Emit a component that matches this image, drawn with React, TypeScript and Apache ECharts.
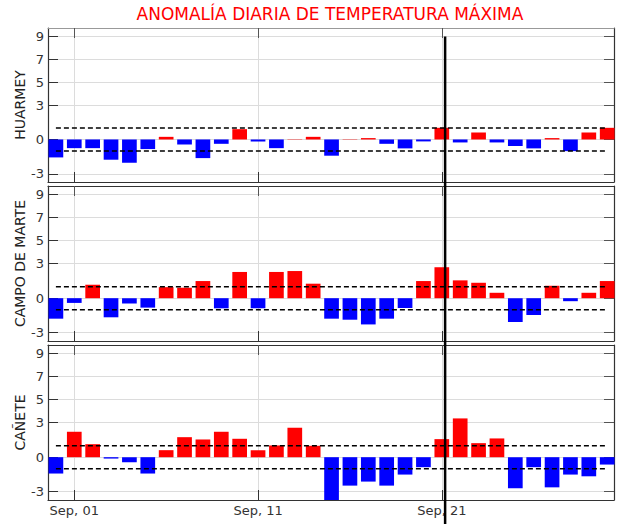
import React, { useEffect, useRef } from 'react';
import * as echarts from 'echarts';

// Day offsets relative to Sep 01 (Aug 31 = -1 ... Sep 30 = 29)
const days = [-1, 0, 1, 2, 3, 4, 5, 6, 7, 8, 9, 10, 11, 12, 13, 14, 15, 16, 17, 18, 19, 20, 21, 22, 23, 24, 25, 26, 27, 28, 29];
const xTickValues = [0, 10, 20];
const xTickLabels = ['Sep, 01', 'Sep, 11', 'Sep, 21'];
const yTickValues = [-3, 0, 3, 5, 7, 9];
const stations = ['HUARMEY', 'CAMPO DE MARTE', 'CAÑETE'];

const huarmey = [-1.57, -0.76, -0.76, -1.77, -2.03, -0.84, 0.23, -0.44, -1.63, -0.38, 0.9, -0.17, -0.76, 0.03, 0.23,
  -1.42, 0.03, 0.12, -0.38, -0.78, -0.17, 1.02, -0.26, 0.61, -0.26, -0.58, -0.78, 0.12, -1.02, 0.61, 1.02];
const campoDeMarte = [-1.78, -0.41, 1.17, -1.66, -0.47, -0.82, 0.96, 0.91, 1.49, -0.88, 2.28, -0.88, 2.28, 2.36, 1.26,
  -1.78, -1.87, -2.28, -1.78, -0.85, 1.49, 2.69, 1.55, 1.34, 0.47, -2.07, -1.46, 1.08, -0.26, 0.47, 1.49];
const canete = [-1.42, 2.21, 1.13, -0.12, -0.44, -1.42, 0.61, 1.74, 1.54, 2.21, 1.6, 0.61, 1.02, 2.56, 0.99,
  -3.9, -2.47, -2.12, -2.47, -1.51, -0.87, 1.57, 3.37, 1.22, 1.63, -2.7, -0.87, -2.62, -1.51, -1.66, -0.64];
const stationValues = [huarmey, campoDeMarte, canete];
const thresholds = [1, -1];
const markerDay = 20.18;
const title = 'ANOMALÍA DIARIA DE TEMPERATURA MÁXIMA';

const FONT = 'DejaVu Sans';
const X_MIN = -1.43;
const X_MAX = 29.37;
const Y_MIN = -3.72;
const Y_MAX = 9.75;
const GRID_LEFT = 48;
const GRID_WIDTH = 566;
const GRID_TOPS = [28, 186, 345];
const GRID_HEIGHTS = [154, 155, 155];

export default function App() {
  const ref = useRef<HTMLDivElement>(null);
  useEffect(() => {
    if (!ref.current) return;
    const chart = echarts.init(ref.current, null, { renderer: 'svg' });
    const barWidth = (GRID_WIDTH / (X_MAX - X_MIN)) * 0.8;

    const grid = GRID_TOPS.map((t, i) => ({ left: GRID_LEFT, width: GRID_WIDTH, top: t, height: GRID_HEIGHTS[i] }));
    const xAxis: any[] = [];
    const yAxis: any[] = [];
    const series: any[] = [];
    stations.forEach((name, i) => {
      xAxis.push({
        type: 'value', gridIndex: i, min: X_MIN, max: X_MAX, position: 'bottom',
        axisLine: { show: true, onZero: false, lineStyle: { color: '#333', width: 1.2 } },
        axisTick: { show: true, inside: true, length: 10, customValues: xTickValues, lineStyle: { color: '#333', width: 1 } },
        axisLabel: {
          show: i === 2, customValues: xTickValues, margin: 4, fontFamily: FONT, fontSize: 13, color: '#333',
          formatter: (v: number) => xTickLabels[xTickValues.indexOf(Math.round(v))] ?? '',
        },
        splitLine: { show: true, lineStyle: { color: '#dcdcdc', width: 1 } },
      });
      xAxis.push({
        type: 'value', gridIndex: i, min: X_MIN, max: X_MAX, position: 'top',
        axisLine: { show: true, onZero: false, lineStyle: { color: i === 0 ? '#999' : '#333', width: 1.2 } },
        axisTick: { show: true, inside: true, length: 10, customValues: xTickValues, lineStyle: { color: '#555', width: 1 } },
        axisLabel: { show: false },
        splitLine: { show: false },
      });
      yAxis.push({
        type: 'value', gridIndex: i, min: Y_MIN, max: Y_MAX, position: 'left',
        name, nameLocation: 'middle', nameRotate: 90, nameGap: 21, nameMoveOverlap: false,
        nameTextStyle: { fontFamily: FONT, fontSize: 14, color: '#222' },
        axisLine: { show: true, onZero: false, lineStyle: { color: '#333', width: 1.2 } },
        axisTick: { show: true, inside: true, length: 10, customValues: yTickValues, lineStyle: { color: '#333', width: 1 } },
        axisLabel: { show: true, customValues: yTickValues, margin: 4, fontFamily: FONT, fontSize: 13, color: '#333' },
        splitLine: { show: true, lineStyle: { color: '#dcdcdc', width: 1 } },
      });
      yAxis.push({
        type: 'value', gridIndex: i, min: Y_MIN, max: Y_MAX, position: 'right',
        axisLine: { show: true, onZero: false, lineStyle: { color: '#333', width: 1.2 } },
        axisTick: { show: true, inside: true, length: 10, customValues: yTickValues, lineStyle: { color: '#555', width: 1 } },
        axisLabel: { show: false },
        splitLine: { show: false },
      });
      series.push({
        type: 'bar', xAxisIndex: 2 * i, yAxisIndex: 2 * i, barWidth, z: 2, clip: true,
        data: days.map((d, k) => ({
          value: [d, stationValues[i][k]],
          itemStyle: { color: stationValues[i][k] >= 0 ? '#ff0000' : '#0000ff' },
        })),
      });
      thresholds.forEach((th) => {
        series.push({
          type: 'line', xAxisIndex: 2 * i, yAxisIndex: 2 * i, z: 5, symbol: 'none', silent: true,
          lineStyle: { color: '#000', width: 1.5, type: [5, 3] },
          data: [[days[0], th], [days[days.length - 1], th]],
        });
      });
    });

    chart.setOption({
      animation: false,
      title: {
        text: title, left: 325, top: 0, textAlign: 'center',
        textStyle: { color: '#ff0000', fontFamily: FONT, fontSize: 17, fontWeight: 'normal' },
      },
      grid, xAxis, yAxis, series,
    });

    const px = chart.convertToPixel({ xAxisIndex: 0 }, markerDay) as number;
    const py = chart.convertToPixel({ yAxisIndex: 0 }, 9) as number;
    chart.setOption({
      graphic: [{
        type: 'line', z: 100, silent: true,
        shape: { x1: px, y1: py, x2: px, y2: 524 },
        style: { stroke: '#000', lineWidth: 2.5 },
      }],
    });

    return () => chart.dispose();
  }, []);
  return <div ref={ref} style={{ position: 'fixed', left: 0, top: 0, width: 619, height: 524, background: '#fff' }} />;
}
